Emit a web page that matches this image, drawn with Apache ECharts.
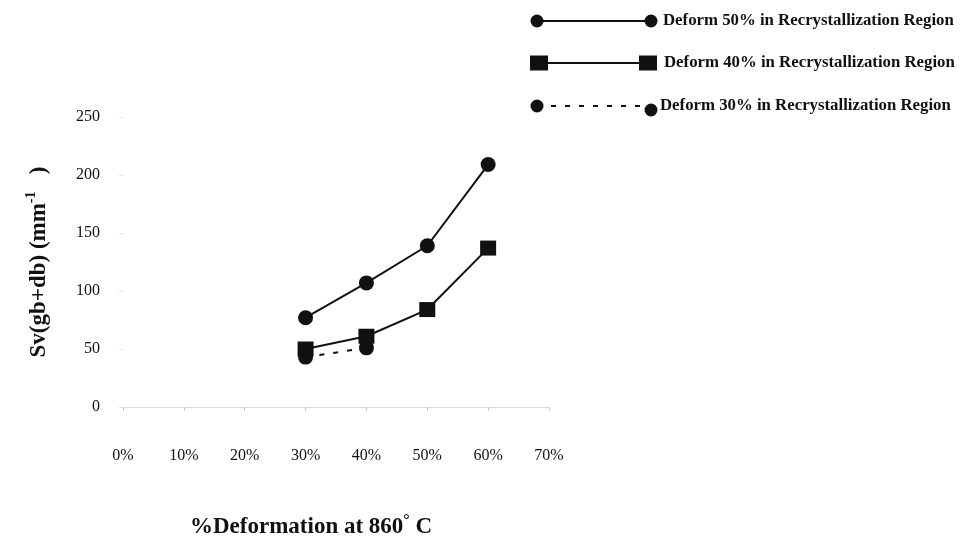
<!DOCTYPE html>
<html>
<head>
<meta charset="utf-8">
<script src="https://cdn.jsdelivr.net/npm/echarts@6/dist/echarts.min.js"></script>
<style>
  html, body { margin: 0; padding: 0; background: #fff; }
  #chart { width: 962px; height: 544px; }
</style>
</head>
<body>
<div id="chart"></div>
<script>
// Deformation levels (%) at 860 °C
const deformation = [30, 40, 50, 60];
// Sv(gb+db) in mm^-1 for each prior deformation in the recrystallization region
const deform50 = [77, 107, 139, 209];
const deform40 = [50, 61, 84, 137];
const deform30 = [43, 51];

const seriesNames = [
  'Deform 50% in Recrystallization Region',
  'Deform 40% in Recrystallization Region',
  'Deform 30% in Recrystallization Region'
];

const serif = '"Liberation Serif", "DejaVu Serif", serif';

function pairs(xs, ys) {
  return ys.map((v, i) => [xs[i], v]);
}

const chart = echarts.init(document.getElementById('chart'));

// Legend drawn as graphic rows: line with a marker at each end plus label
function legendRow(y, symbol, dashed, label, textX, y2) {
  const els = [];
  els.push({
    type: 'line',
    shape: { x1: 537, y1: y, x2: 650, y2: y },
    style: { stroke: '#111', lineWidth: 2, lineDash: dashed ? [5, 9] : null }
  });
  const ends = [[537, y], [651, y2 == null ? y : y2]];
  ends.forEach(([cx, cy], i) => {
    if (symbol === 'circle') {
      els.push({ type: 'circle', shape: { cx, cy, r: 6.5 }, style: { fill: '#111' } });
    } else {
      const sx = i === 0 ? cx + 2 : cx - 3;
      els.push({ type: 'rect', shape: { x: sx - 9, y: cy - 7.5, width: 18, height: 15 }, style: { fill: '#111' } });
    }
  });
  els.push({
    type: 'text',
    x: textX, y: y,
    style: {
      text: label,
      font: 'bold 16.8px ' + serif,
      fill: '#111',
      verticalAlign: 'middle'
    }
  });
  return els;
}

const option = {
  backgroundColor: '#ffffff',
  animation: false,
  grid: { left: 123, right: 413, top: 117, height: 290, containLabel: false },
  xAxis: {
    type: 'value',
    min: 0, max: 70, interval: 10,
    axisLine: { show: true, lineStyle: { color: '#dcdcdc', width: 1 } },
    axisTick: { show: true, length: 4, lineStyle: { color: '#c8c8c8' } },
    splitLine: { show: false },
    axisLabel: {
      margin: 41,
      formatter: v => v + '%',
      fontFamily: serif,
      fontSize: 16,
      color: '#111'
    }
  },
  yAxis: {
    type: 'value',
    min: 0, max: 250, interval: 50,
    axisLine: { show: false },
    axisTick: { show: true, length: 4, inside: false, lineStyle: { color: '#e2e2e2' } },
    splitLine: { show: false },
    axisLabel: {
      margin: 23,
      fontFamily: serif,
      fontSize: 16,
      color: '#111'
    },
    name: 'Sv(gb+db) (mm{sup|-1}   )',
    nameLocation: 'middle',
    nameRotate: 90,
    nameGap: 69,
    nameTextStyle: {
      fontFamily: serif,
      fontWeight: 'bold',
      fontSize: 23,
      color: '#111',
      rich: {
        sup: {
          fontFamily: serif,
          fontWeight: 'bold',
          fontSize: 14,
          color: '#111',
          verticalAlign: 'top',
          padding: [0, 0, 16, 0]
        }
      }
    }
  },
  series: [
    {
      name: seriesNames[0],
      type: 'line',
      data: pairs(deformation, deform50),
      symbol: 'circle',
      symbolSize: 15,
      lineStyle: { color: '#111', width: 2 },
      itemStyle: { color: '#111' }
    },
    {
      name: seriesNames[1],
      type: 'line',
      data: pairs(deformation, deform40),
      symbol: 'rect',
      symbolSize: [16, 15],
      lineStyle: { color: '#111', width: 2 },
      itemStyle: { color: '#111' }
    },
    {
      name: seriesNames[2],
      type: 'line',
      data: pairs(deformation, deform30),
      symbol: 'circle',
      symbolSize: 15,
      lineStyle: { color: '#111', width: 2, type: [5, 9] },
      itemStyle: { color: '#111' }
    }
  ],
  graphic: [
    ...legendRow(21, 'circle', false, seriesNames[0], 663),
    ...legendRow(63, 'rect', false, seriesNames[1], 664),
    ...legendRow(106, 'circle', true, seriesNames[2], 660, 110),
    {
      type: 'text',
      x: 190, y: 527,
      style: {
        text: '%Deformation at 860{deg|°} C',
        font: 'bold 23px ' + serif,
        fill: '#111',
        verticalAlign: 'middle',
        rich: {
          deg: {
            font: 'bold 16px ' + serif,
            fill: '#111',
            verticalAlign: 'top',
            padding: [0, 0, 12, 0]
          }
        }
      }
    }
  ]
};

chart.setOption(option);
</script>
</body>
</html>
